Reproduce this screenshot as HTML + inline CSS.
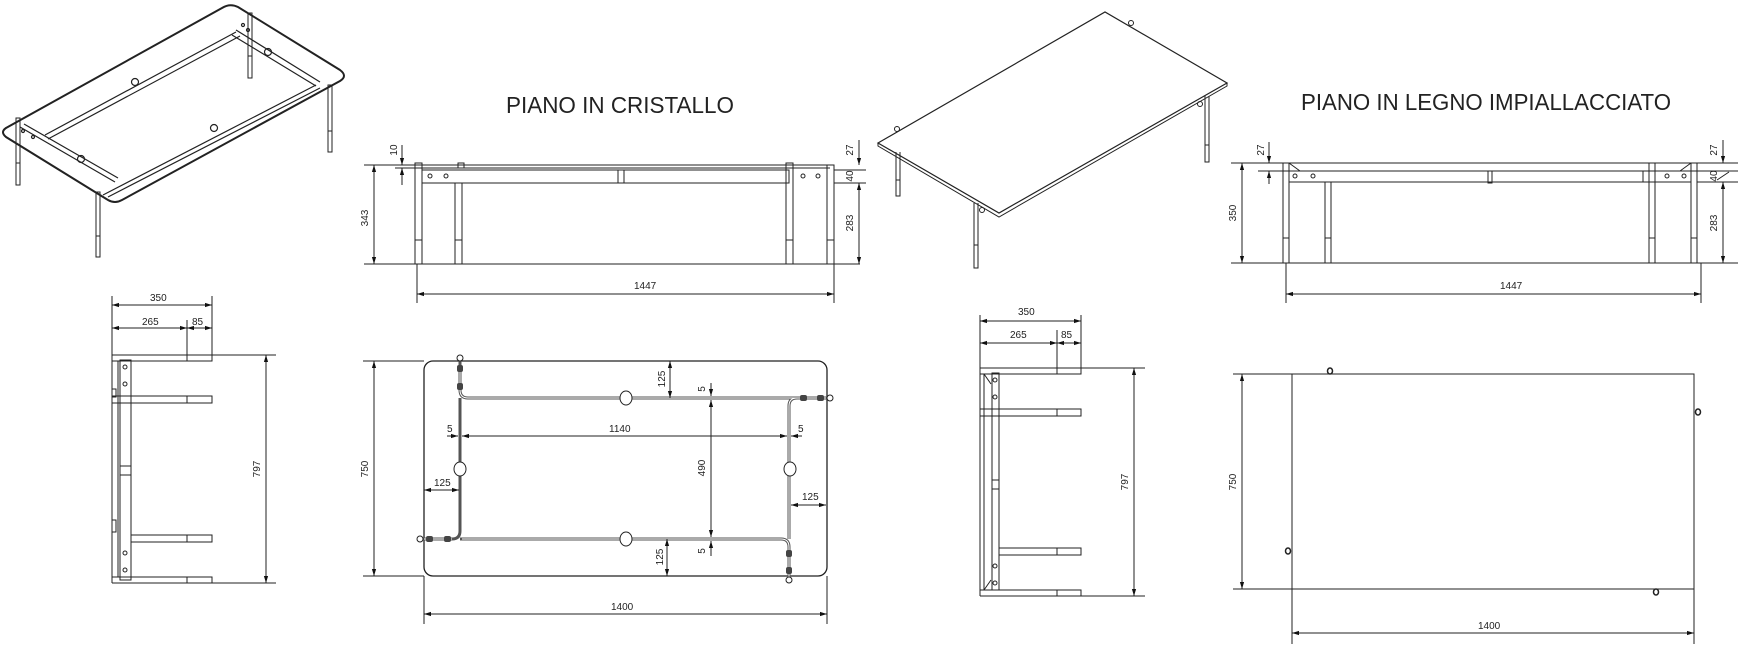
<!DOCTYPE html>
<html><head><meta charset="utf-8"><style>
html,body{margin:0;padding:0;background:#fff;}
svg{display:block;}
text{font-family:"Liberation Sans",sans-serif;fill:#222;}
.t{font-size:10px;}
.title{font-size:23px;}
</style></head><body>
<svg width="1746" height="656" viewBox="0 0 1746 656" xmlns="http://www.w3.org/2000/svg">
<defs>
<marker id="a" viewBox="0 0 10 10" refX="10" refY="5" markerWidth="7" markerHeight="7" orient="auto-start-reverse"><path d="M0,2 L10,5 L0,8 z" fill="#111"/></marker>
</defs>
<g fill="none" stroke="#222" stroke-width="1">

<!-- ISO GLASS TABLE -->
<g stroke-width="1.2">
<path d="M222,8 Q230,3 238,7 L340,70 Q348,76 340,81 L122,200 Q115,204 108,200 L6,137 Q0,132 6,128 Z" stroke-width="2"/>
<!-- legs -->
<g stroke-width="1">
<path d="M16,118 v67 h4 v-67 z M16,163 h4"/>
<path d="M96,192 v65 h4 v-65 z M96,236 h4"/>
<path d="M328,85 v67 h4 v-67 z M328,131 h4"/>
<path d="M248,13 v65 h4 v-65 z M248,56 h4"/>
</g>
<!-- rails -->
<path d="M20,127 L115,182 M24,124 L118,178"/>
<path d="M103,195 L316,85 M108,197 L320,88"/>
<path d="M45,135 L236,32 M48,139 L240,36"/>
<path d="M236,30 L320,82 M232,35 L316,86"/>
<circle cx="135" cy="82" r="3.5"/><circle cx="214" cy="128" r="3.5"/>
<circle cx="81" cy="159" r="3.5"/><circle cx="268" cy="52" r="3.5"/>
<circle cx="23" cy="131" r="1.5"/><circle cx="33" cy="137" r="1.5"/>
<circle cx="243" cy="25" r="1.5"/><circle cx="248" cy="30" r="1.5"/>
</g>

<!-- FRONT ELEVATION CRISTALLO -->
<path d="M364,165 H834 M395,168 H830 M364,264 H860"/>
<path d="M422,170 H789 V183 H422 Z"/>
<path d="M415,163 v101 h7 v-101 z M415,240 h7"/>
<path d="M455,183 v81 h7 v-81 z M455,240 h7"/>
<path d="M786,163 v101 h7 v-101 z M786,240 h7"/>
<path d="M827,165 v99 h7 v-99 z M827,240 h7"/>
<path d="M458,163 h6 v5 h-6 z M618,170 v13 h6 v-13"/>
<circle cx="430" cy="176" r="2"/><circle cx="446" cy="176" r="2"/>
<circle cx="803" cy="176" r="2"/><circle cx="818" cy="176" r="2"/>
<!-- dims -->
<line x1="374" y1="165" x2="374" y2="264" marker-start="url(#a)" marker-end="url(#a)"/>
<line x1="402" y1="145" x2="402" y2="165" marker-end="url(#a)"/>
<line x1="402" y1="185" x2="402" y2="168" marker-end="url(#a)"/>
<path d="M834,170 H866 M834,183 H866"/>
<line x1="859" y1="140" x2="859" y2="165" marker-end="url(#a)"/>
<line x1="859" y1="183" x2="859" y2="264" marker-start="url(#a)" marker-end="url(#a)"/>
<path d="M417,264 V303 M834,264 V303"/>
<line x1="417" y1="294" x2="834" y2="294" marker-start="url(#a)" marker-end="url(#a)"/>

<!-- ISO WOOD TABLE -->
<path d="M878,143 L1105,12 L1227,83 L999,213 Z" stroke-width="1.2"/>
<path d="M878,143 v3 L999,217 L1227,86 v-3"/>
<path d="M896,152 v44 h4 v-44 M896,180 h4 M896,196 h4"/>
<path d="M974,203 v65 h4 v-65 M974,245 h4 M974,268 h4"/>
<path d="M1205,96 v66 h4 v-66 M1205,145 h4"/>
<circle cx="1131" cy="23" r="2.5"/><circle cx="897" cy="129" r="2.5"/>
<circle cx="982" cy="210" r="2.5"/><circle cx="1200" cy="104" r="2.5"/>

<!-- FRONT ELEVATION WOOD -->
<path d="M1231,163 H1738 M1258,171 H1738 M1231,263 H1738"/>
<path d="M1289,171 H1691 V182 H1289 Z"/>
<path d="M1283,163 v100 h6 v-100 z M1283,238 h6"/>
<path d="M1325,182 v81 h6 v-81 z M1325,238 h6"/>
<path d="M1649,163 v100 h6 v-100 z M1649,238 h6"/>
<path d="M1691,163 v100 h6 v-100 z M1691,238 h6"/>
<path d="M1488,171 v12 h4 v-12 M1289,163 L1300,171 M1691,163 L1680,171 M1643,171 v11"/>
<circle cx="1295" cy="176" r="2"/><circle cx="1313" cy="176" r="2"/>
<circle cx="1667" cy="176" r="2"/><circle cx="1684" cy="176" r="2"/>
<line x1="1242" y1="163" x2="1242" y2="263" marker-start="url(#a)" marker-end="url(#a)"/>
<line x1="1269" y1="142" x2="1269" y2="163" marker-end="url(#a)"/>
<line x1="1269" y1="184" x2="1269" y2="171" marker-end="url(#a)"/>
<path d="M1697,182 H1738 M1717,180 L1729,172"/>
<line x1="1723" y1="140" x2="1723" y2="163" marker-end="url(#a)"/>
<line x1="1723" y1="182" x2="1723" y2="263" marker-start="url(#a)" marker-end="url(#a)"/>
<path d="M1286,263 V303 M1701,263 V303"/>
<line x1="1286" y1="294" x2="1701" y2="294" marker-start="url(#a)" marker-end="url(#a)"/>

<!-- SIDE VIEW 1 -->
<path d="M112,296 V355 M187,320 V355 M212,296 V355"/>
<line x1="112" y1="305" x2="212" y2="305" marker-start="url(#a)" marker-end="url(#a)"/>
<line x1="112" y1="328" x2="187" y2="328" marker-start="url(#a)" marker-end="url(#a)"/>
<line x1="187" y1="328" x2="212" y2="328" marker-start="url(#a)" marker-end="url(#a)"/>
<path d="M112,355 H276 M112,583 H276"/>
<path d="M112,355 V583 M118,361 V577 M120,360 v220 h11 v-220 z"/>
<path d="M112,355 h100 v6 h-100 M187,355 v6"/>
<path d="M112,396 h100 v7 h-100 z M187,396 v7"/>
<path d="M131,535 h81 v7 h-81 z M187,535 v7"/>
<path d="M112,577 h100 v6 h-100 M187,577 v6"/>
<circle cx="125" cy="367" r="2"/><circle cx="125" cy="384" r="2"/>
<circle cx="125" cy="553" r="2"/><circle cx="125" cy="570" r="2"/>
<path d="M120,466 h11 v9 h-11 z M112,520 h4 v12 h-4 z M112,389 h4 v8 h-4 z"/>
<line x1="266" y1="355" x2="266" y2="583" marker-start="url(#a)" marker-end="url(#a)"/>

<!-- PLAN GLASS -->
<rect x="424" y="361" width="403" height="215" rx="9" stroke-width="1.3"/>
<path d="M363,361 H424 M363,576 H424 M424,576 V624 M827,576 V624"/>
<g stroke="#555" stroke-width="3">
<path d="M460,361 V390 Q460,398 468,398 H828"/>
<path d="M420,539 H452 Q460,539 460,531 V398"/>
<path d="M789,580 V547 Q789,539 781,539 H460"/>
<path d="M789,539 V406 Q789,398 797,398"/>
</g>
<g stroke="#fff" stroke-width="1"><path d="M460,366 V390 Q460,398 468,398 H826 M424,539 H452 M789,578 V547 Q789,539 781,539 H462 M789,539 V406 Q789,398 797,398"/></g>
<g fill="#fff" stroke="#222">
<ellipse cx="626" cy="398" rx="6" ry="7"/><ellipse cx="626" cy="539" rx="6" ry="7"/>
<ellipse cx="460" cy="469" rx="6" ry="7"/><ellipse cx="790" cy="469" rx="6" ry="7"/>
<circle cx="460" cy="358" r="3"/><circle cx="830" cy="398" r="3"/>
<circle cx="420" cy="539" r="3"/><circle cx="789" cy="580" r="3"/>
</g>
<g fill="#444" stroke="none">
<rect x="457" y="365" width="6" height="7" rx="2"/><rect x="457" y="383" width="6" height="7" rx="2"/>
<rect x="800" y="395" width="7" height="6" rx="2"/><rect x="817" y="395" width="7" height="6" rx="2"/>
<rect x="426" y="536" width="7" height="6" rx="2"/><rect x="444" y="536" width="7" height="6" rx="2"/>
<rect x="786" y="550" width="6" height="7" rx="2"/><rect x="786" y="567" width="6" height="7" rx="2"/>
</g>
<line x1="374" y1="361" x2="374" y2="576" marker-start="url(#a)" marker-end="url(#a)"/>
<line x1="424" y1="614" x2="827" y2="614" marker-start="url(#a)" marker-end="url(#a)"/>
<line x1="670" y1="361" x2="670" y2="398" marker-start="url(#a)" marker-end="url(#a)"/>
<line x1="667" y1="539" x2="667" y2="576" marker-start="url(#a)" marker-end="url(#a)"/>
<line x1="711" y1="383" x2="711" y2="396" marker-end="url(#a)"/>
<line x1="711" y1="400" x2="711" y2="537" marker-start="url(#a)" marker-end="url(#a)"/>
<line x1="711" y1="556" x2="711" y2="541" marker-end="url(#a)"/>
<line x1="462" y1="436" x2="787" y2="436" marker-start="url(#a)" marker-end="url(#a)"/>
<line x1="447" y1="436" x2="458" y2="436" marker-end="url(#a)"/>
<line x1="802" y1="436" x2="791" y2="436" marker-end="url(#a)"/>
<line x1="424" y1="490" x2="459" y2="490" marker-start="url(#a)" marker-end="url(#a)"/>
<line x1="791" y1="505" x2="826" y2="505" marker-start="url(#a)" marker-end="url(#a)"/>

<!-- SIDE VIEW 2 -->
<path d="M980,315 V368 M1057,330 V368 M1081,315 V368"/>
<line x1="980" y1="321" x2="1081" y2="321" marker-start="url(#a)" marker-end="url(#a)"/>
<line x1="980" y1="343" x2="1057" y2="343" marker-start="url(#a)" marker-end="url(#a)"/>
<line x1="1057" y1="343" x2="1081" y2="343" marker-start="url(#a)" marker-end="url(#a)"/>
<path d="M980,368 H1145 M980,596 H1145"/>
<path d="M980,368 V596 M984,374 V590 M992,373 v217 h7 v-217 z"/>
<path d="M980,368 h101 v6 h-101 M1057,368 v6"/>
<path d="M980,409 h101 v7 h-101 z M1057,409 v7"/>
<path d="M999,548 h82 v7 h-82 z M1057,548 v7"/>
<path d="M980,590 h101 v6 h-101 M1057,590 v6"/>
<path d="M984,374 L991,384 M984,590 L991,580 M992,480 h7 v9 h-7 z"/>
<circle cx="995" cy="380" r="2"/><circle cx="995" cy="397" r="2"/>
<circle cx="995" cy="566" r="2"/><circle cx="995" cy="583" r="2"/>
<line x1="1134" y1="368" x2="1134" y2="596" marker-start="url(#a)" marker-end="url(#a)"/>

<!-- PLAN WOOD -->
<path d="M1233,374 H1694 V589 H1233 M1292,374 V644 M1694,589 V644"/>
<line x1="1242" y1="374" x2="1242" y2="589" marker-start="url(#a)" marker-end="url(#a)"/>
<line x1="1292" y1="633" x2="1694" y2="633" marker-start="url(#a)" marker-end="url(#a)"/>
<g stroke-width="1.5">
<ellipse cx="1330" cy="371" rx="2.5" ry="3"/><ellipse cx="1698" cy="412" rx="2.5" ry="3"/>
<ellipse cx="1288" cy="551" rx="2.5" ry="3"/><ellipse cx="1656" cy="592" rx="2.5" ry="3"/>
</g>
</g>

<!-- TEXT -->
<text class="title" x="506" y="113" textLength="228" lengthAdjust="spacingAndGlyphs">PIANO IN CRISTALLO</text>
<text class="title" x="1301" y="110" textLength="370" lengthAdjust="spacingAndGlyphs">PIANO IN LEGNO IMPIALLACCIATO</text>
<g class="t">
<text x="634" y="289" font-size="10">1447</text>
<text x="1500" y="289" font-size="10">1447</text>
<text x="150" y="301">350</text><text x="142" y="325">265</text><text x="192" y="325">85</text>
<text x="1018" y="315">350</text><text x="1010" y="338">265</text><text x="1061" y="338">85</text>
<text x="611" y="610">1400</text>
<text x="1478" y="629">1400</text>
<text x="609" y="432">1140</text>
<text x="434" y="486">125</text><text x="802" y="500">125</text>
<text x="447" y="432">5</text><text x="798" y="432">5</text>
<text transform="translate(368,218) rotate(-90)" text-anchor="middle">343</text>
<text transform="translate(397,150) rotate(-90)" text-anchor="middle">10</text>
<text transform="translate(853,150) rotate(-90)" text-anchor="middle">27</text>
<text transform="translate(853,176) rotate(-90)" text-anchor="middle">40</text>
<text transform="translate(853,223) rotate(-90)" text-anchor="middle">283</text>
<text transform="translate(1236,213) rotate(-90)" text-anchor="middle">350</text>
<text transform="translate(1264,150) rotate(-90)" text-anchor="middle">27</text>
<text transform="translate(1717,150) rotate(-90)" text-anchor="middle">27</text>
<text transform="translate(1717,176) rotate(-90)" text-anchor="middle">40</text>
<text transform="translate(1717,223) rotate(-90)" text-anchor="middle">283</text>
<text transform="translate(260,469) rotate(-90)" text-anchor="middle">797</text>
<text transform="translate(1128,482) rotate(-90)" text-anchor="middle">797</text>
<text transform="translate(368,469) rotate(-90)" text-anchor="middle">750</text>
<text transform="translate(1236,482) rotate(-90)" text-anchor="middle">750</text>
<text transform="translate(665,379) rotate(-90)" text-anchor="middle">125</text>
<text transform="translate(663,557) rotate(-90)" text-anchor="middle">125</text>
<text transform="translate(705,468) rotate(-90)" text-anchor="middle">490</text>
<text transform="translate(705,389) rotate(-90)" text-anchor="middle">5</text>
<text transform="translate(705,551) rotate(-90)" text-anchor="middle">5</text>
</g>
</svg>
</body></html>
